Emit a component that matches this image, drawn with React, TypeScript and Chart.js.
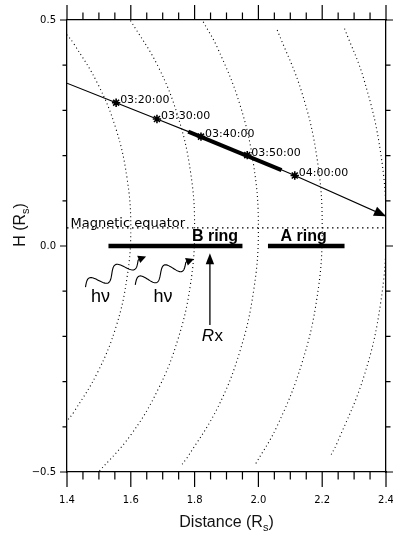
import React, { useEffect, useRef } from 'react';
import { Chart, registerables } from 'chart.js';

Chart.register(...registerables);

// ---------- axes ----------
const xRange = [1.4, 2.4];
const yRange = [-0.5, 0.5];
const xMajorTicks = [1.4, 1.6, 1.8, 2.0, 2.2, 2.4];
const xMinorTicks = [1.45, 1.5, 1.55, 1.65, 1.7, 1.75, 1.85, 1.9, 1.95, 2.05, 2.1, 2.15, 2.25, 2.3, 2.35];
const yMajorTicks = [-0.5, 0.0, 0.5];
const yMinorTicks = [-0.4, -0.3, -0.2, -0.1, 0.1, 0.2, 0.3, 0.4];
const xTitleParts = ['Distance (R', 's', ')'];
const yTitleParts = ['H (R', 's', ')'];

// ---------- dotted field lines (L = 1.6 ... 2.4) ----------
const field16X = [1.399, 1.421, 1.497, 1.554, 1.588, 1.600, 1.588, 1.554, 1.497, 1.421, 1.399];
const field16H = [0.468, 0.448, 0.358, 0.258, 0.151, 0.040, -0.071, -0.178, -0.278, -0.368, -0.388];
const field18X = [1.599, 1.685, 1.748, 1.787, 1.800, 1.787, 1.748, 1.685, 1.599, 1.494];
const field18H = [0.499, 0.398, 0.286, 0.165, 0.040, -0.085, -0.206, -0.318, -0.419, -0.504];
const field20X = [1.827, 1.872, 1.942, 1.985, 2.000, 1.985, 1.942, 1.872, 1.776, 1.755];
const field20H = [0.496, 0.438, 0.313, 0.179, 0.040, -0.099, -0.233, -0.358, -0.469, -0.488];
const field22X = [2.059, 2.136, 2.184, 2.200, 2.184, 2.136, 2.059, 1.988];
const field22H = [0.478, 0.340, 0.193, 0.040, -0.113, -0.260, -0.398, -0.486];
const field24X = [2.270, 2.331, 2.383, 2.400, 2.383, 2.331, 2.246, 2.223];
const field24H = [0.481, 0.368, 0.207, 0.040, -0.127, -0.288, -0.437, -0.468];

// ---------- magnetic equator ----------
const equatorX = [1.4, 2.4];
const equatorH = [0.04, 0.04];
const equatorLabel = 'Magnetic equator';
const equatorLabelX = 1.411;

// ---------- trajectory ----------
const trajX = [1.4, 1.554, 1.682, 1.820, 1.965, 2.114, 2.4];
const trajH = [0.36, 0.317, 0.281, 0.242, 0.201, 0.156, 0.066];
const timeX = [1.554, 1.682, 1.820, 1.965, 2.114];
const timeH = [0.317, 0.281, 0.242, 0.201, 0.156];
const timeLabels = ['03:20:00', '03:30:00', '03:40:00', '03:50:00', '04:00:00'];
const thickX = [1.78, 2.0725];
const thickH = [0.253, 0.168];

// ---------- rings ----------
const bRingX = [1.53, 1.95];
const aRingX = [2.03, 2.27];
const ringH = [0, 0];
const ringLabels = ['B ring', 'A ring'];
const ringLabelX = [1.864, 2.142];
const ringLabelH = 0.011;

// ---------- receiver & photons ----------
const rxX = [1.848, 1.848];
const rxH = [-0.175, -0.016];
const rxLabelX = 1.855;
const rxLabelH = -0.199;
const waveStartX = [1.458, 1.614];
const waveStartH = [-0.091, -0.086];
const waveEndX = [1.648, 1.798];
const waveEndH = [-0.023, -0.029];
const hvLabelX = [1.505, 1.701];
const hvLabelH = -0.113;

const pts = (xs: number[], ys: number[]) => xs.map((x, i) => ({ x, y: ys[i] }));

const dotted = (xs: number[], ys: number[]) => ({
  data: pts(xs, ys),
  showLine: true,
  borderColor: '#000',
  borderWidth: 1.1,
  borderDash: [1, 3],
  pointRadius: 0,
  tension: 0.4,
  fill: false,
  xAxisID: 'x',
  yAxisID: 'y',
});

const solid = (xs: number[], ys: number[], w: number) => ({
  data: pts(xs, ys),
  showLine: true,
  borderColor: '#000',
  borderWidth: w,
  pointRadius: 0,
  tension: 0,
  fill: false,
  borderCapStyle: 'butt',
  xAxisID: 'x',
  yAxisID: 'y',
});

function arrowHead(ctx: CanvasRenderingContext2D, fx: number, fy: number, tx: number, ty: number, len: number, half: number) {
  const a = Math.atan2(ty - fy, tx - fx);
  ctx.beginPath();
  ctx.moveTo(tx, ty);
  ctx.lineTo(tx - len * Math.cos(a) + half * Math.sin(a), ty - len * Math.sin(a) - half * Math.cos(a));
  ctx.lineTo(tx - len * Math.cos(a) - half * Math.sin(a), ty - len * Math.sin(a) + half * Math.cos(a));
  ctx.closePath();
  ctx.fill();
}

function wave(ctx: CanvasRenderingContext2D, x0: number, y0: number, x1: number, y1: number) {
  const dx = x1 - x0, dy = y1 - y0;
  const len = Math.hypot(dx, dy);
  const ux = dx / len, uy = dy / len;
  const nx = -uy, ny = ux;
  const body = len - 9;
  ctx.beginPath();
  let lx = x0, ly = y0;
  for (let i = 0; i <= 80; i++) {
    const t = i / 80;
    const amp = -6.5 * Math.sin(2 * Math.PI * 2 * t);
    lx = x0 + ux * body * t + nx * amp;
    ly = y0 + uy * body * t + ny * amp;
    if (i === 0) ctx.moveTo(lx, ly); else ctx.lineTo(lx, ly);
  }
  const bx = x1 - ux * 7, by = y1 - uy * 7;
  ctx.quadraticCurveTo(x0 + ux * (body + 3), y0 + uy * (body + 3) - 2, bx, by);
  ctx.stroke();
  arrowHead(ctx, bx - 4, by + 1, x1, y1, 8, 4);
}

const overlay = {
  id: 'overlay',
  afterDraw(chart: any) {
    const { ctx, chartArea: ca, scales } = chart;
    const px = (v: number) => scales.x.getPixelForValue(v);
    const py = (v: number) => scales.y.getPixelForValue(v);
    ctx.save();
    ctx.strokeStyle = '#000';
    ctx.fillStyle = '#000';
    ctx.lineWidth = 1.2;

    // tick marks on all four sides
    ctx.beginPath();
    xMajorTicks.forEach((v) => {
      const x = px(v);
      ctx.moveTo(x, ca.bottom); ctx.lineTo(x, ca.bottom + 15);
      ctx.moveTo(x, ca.top); ctx.lineTo(x, ca.top - 15);
    });
    xMinorTicks.forEach((v) => {
      const x = px(v);
      ctx.moveTo(x, ca.bottom); ctx.lineTo(x, ca.bottom + 7.5);
      ctx.moveTo(x, ca.top); ctx.lineTo(x, ca.top - 7.5);
    });
    yMajorTicks.forEach((v) => {
      const y = py(v);
      ctx.moveTo(ca.left, y); ctx.lineTo(ca.left - 7, y);
      ctx.moveTo(ca.right, y); ctx.lineTo(ca.right + 7, y);
    });
    yMinorTicks.forEach((v) => {
      const y = py(v);
      ctx.moveTo(ca.left, y); ctx.lineTo(ca.left - 4.5, y);
      ctx.moveTo(ca.right, y); ctx.lineTo(ca.right + 4.5, y);
    });
    ctx.stroke();

    // trajectory arrow head
    const n = trajX.length;
    arrowHead(ctx, px(trajX[n - 2]), py(trajH[n - 2]), px(trajX[n - 1]), py(trajH[n - 1]), 12, 5);

    // time labels
    ctx.font = '11px "DejaVu Sans"';
    ctx.textAlign = 'left';
    ctx.textBaseline = 'alphabetic';
    timeLabels.forEach((t, i) => ctx.fillText(t, px(timeX[i]) + 4, py(timeH[i]) + 0.5));

    // magnetic equator label
    ctx.font = '13px "DejaVu Sans"';
    ctx.fillText(equatorLabel, px(equatorLabelX), py(equatorH[0]) - 0.5);

    // ring labels
    ctx.font = 'bold 16px "Liberation Sans"';
    ctx.textAlign = 'center';
    ringLabels.forEach((t, i) => ctx.fillText(t, px(ringLabelX[i]), py(ringLabelH)));

    // receiver arrow head
    arrowHead(ctx, px(rxX[0]), py(rxH[0]), px(rxX[1]), py(rxH[1]), 11, 4.2);

    // Rx label
    ctx.textBaseline = 'middle';
    ctx.textAlign = 'left';
    ctx.font = 'italic 17px "Liberation Sans"';
    const rW = ctx.measureText('R').width;
    ctx.font = '17px "Liberation Sans"';
    const xW = ctx.measureText('x').width;
    const rx0 = px(rxLabelX) - (rW + xW) / 2;
    ctx.font = 'italic 17px "Liberation Sans"';
    ctx.fillText('R', rx0, py(rxLabelH));
    ctx.font = '17px "Liberation Sans"';
    ctx.fillText('x', rx0 + rW + 0.5, py(rxLabelH));

    // photons
    ctx.lineWidth = 1.1;
    waveStartX.forEach((_, i) => {
      wave(ctx, px(waveStartX[i]), py(waveStartH[i]), px(waveEndX[i]), py(waveEndH[i]));
    });
    ctx.font = '18px "Liberation Sans"';
    ctx.textAlign = 'center';
    hvLabelX.forEach((v) => ctx.fillText('h\u03BD', px(v), py(hvLabelH)));

    // axis titles
    const drawTitle = (parts: string[], cx: number, cy: number) => {
      ctx.textBaseline = 'alphabetic';
      ctx.textAlign = 'left';
      ctx.font = '16px "Liberation Sans"';
      const w0 = ctx.measureText(parts[0]).width;
      const w2 = ctx.measureText(parts[2]).width;
      ctx.font = '11px "Liberation Sans"';
      const w1 = ctx.measureText(parts[1]).width;
      let x = cx - (w0 + w1 + w2) / 2;
      ctx.font = '16px "Liberation Sans"';
      ctx.fillText(parts[0], x, cy);
      x += w0;
      ctx.font = '11px "Liberation Sans"';
      ctx.fillText(parts[1], x, cy + 4);
      x += w1;
      ctx.font = '16px "Liberation Sans"';
      ctx.fillText(parts[2], x, cy);
    };
    ctx.fillStyle = '#111';
    drawTitle(xTitleParts, (ca.left + ca.right) / 2, ca.bottom + 55);
    ctx.save();
    ctx.translate(ca.left - 42, (ca.top + ca.bottom) / 2 - 21);
    ctx.rotate(-Math.PI / 2);
    drawTitle(yTitleParts, 0, 0);
    ctx.restore();

    ctx.restore();
  },
};

const border = { display: true, color: '#000', width: 1.3 };
const hiddenGrid = (len: number) => ({
  display: true,
  drawOnChartArea: false,
  drawTicks: true,
  tickLength: len,
  color: 'rgba(0,0,0,0)',
  tickColor: 'rgba(0,0,0,0)',
});

export default function App() {
  const ref = useRef<HTMLCanvasElement>(null);
  useEffect(() => {
    document.body.style.margin = '0';
    const datasets: any[] = [
      dotted(field16X, field16H),
      dotted(field18X, field18H),
      dotted(field20X, field20H),
      dotted(field22X, field22H),
      dotted(field24X, field24H),
      { ...dotted(equatorX, equatorH), borderDash: [1.5, 3.5], tension: 0 },
      solid(trajX, trajH, 1.1),
      solid(thickX, thickH, 4),
      {
        data: pts(timeX, timeH),
        showLine: false,
        pointStyle: 'star',
        pointRadius: 4.2,
        pointBorderWidth: 1.6,
        pointBorderColor: '#000',
        pointBackgroundColor: '#000',
        xAxisID: 'x',
        yAxisID: 'y',
      },
      solid(bRingX, ringH, 4.5),
      solid(aRingX, ringH, 4.5),
      solid(rxX, [rxH[0], rxH[1] - 0.015], 1.3),
    ];
    const chart = new Chart(ref.current!, {
      type: 'scatter',
      data: { datasets },
      options: {
        animation: false,
        responsive: false,
        maintainAspectRatio: false,
        layout: { padding: 0 },
        plugins: { legend: { display: false }, tooltip: { enabled: false } },
        scales: {
          x: {
            type: 'linear', position: 'bottom', min: xRange[0], max: xRange[1],
            grid: hiddenGrid(22), border,
            afterFit: (s: any) => { s.height = 63; s.paddingLeft = 0; s.paddingRight = 0; },
            afterBuildTicks: (s: any) => { s.ticks = xMajorTicks.map((v) => ({ value: v })); },
            ticks: {
              padding: 0, color: '#000', font: { family: 'DejaVu Sans', size: 10 },
              maxRotation: 0, autoSkip: false,
              callback: (v: any) => Number(v).toFixed(1),
            },
          },
          x2: {
            type: 'linear', position: 'top', min: xRange[0], max: xRange[1],
            grid: { display: false, drawTicks: false }, border,
            afterFit: (s: any) => { s.height = 20; },
            ticks: { display: false },
          },
          y: {
            type: 'linear', position: 'left', min: yRange[0], max: yRange[1],
            grid: hiddenGrid(11), border,
            afterFit: (s: any) => { s.width = 67; s.paddingTop = 0; s.paddingBottom = 0; },
            afterBuildTicks: (s: any) => { s.ticks = yMajorTicks.map((v) => ({ value: v })); },
            ticks: {
              padding: 0, color: '#000', font: { family: 'DejaVu Sans', size: 10 },
              callback: (v: any) => (Number(v) < 0 ? '\u2212' + Math.abs(Number(v)).toFixed(1) : Number(v).toFixed(1)),
            },
          },
          y2: {
            type: 'linear', position: 'right', min: yRange[0], max: yRange[1],
            grid: { display: false, drawTicks: false }, border,
            afterFit: (s: any) => { s.width = 7; },
            ticks: { display: false },
          },
        },
      } as any,
      plugins: [overlay],
    });
    return () => chart.destroy();
  }, []);
  return (
    <div style={{ width: 393, height: 535 }}>
      <canvas ref={ref} width={393} height={535} style={{ display: 'block' }} />
    </div>
  );
}
